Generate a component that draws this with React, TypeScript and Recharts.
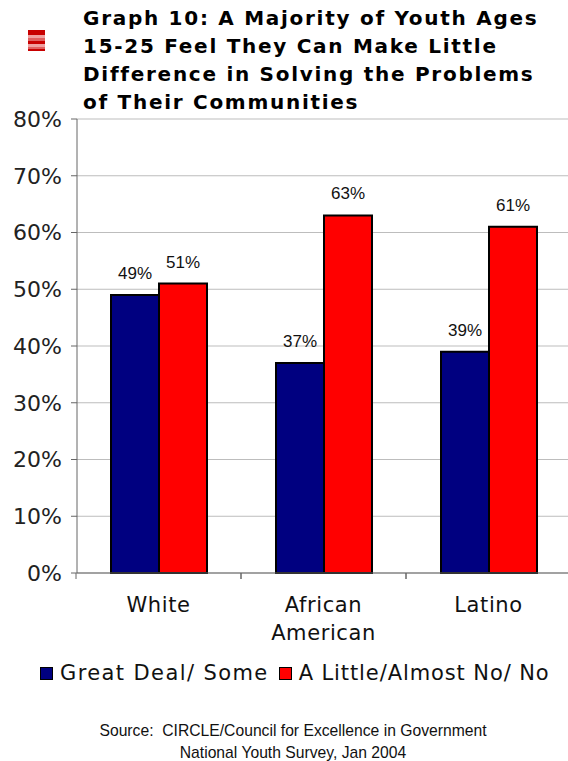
import { BarChart, Bar, XAxis, YAxis, CartesianGrid, LabelList } from "recharts";

const categories = ["White", "African American", "Latino"];
const greatDealSome = [49, 37, 39];
const littleOrNone = [51, 63, 61];
const yTicks = [0, 10, 20, 30, 40, 50, 60, 70, 80];
const titleLines = [
  "Graph 10: A Majority of Youth Ages",
  "15-25 Feel They Can Make Little",
  "Difference in Solving the Problems",
  "of Their Communities",
];
const sourceLines = [
  "Source:  CIRCLE/Council for Excellence in Government",
  "National Youth Survey, Jan 2004",
];
const legendLabels = ["Great Deal/ Some", "A Little/Almost No/ No"];

const data = categories.map((name, i) => ({
  name,
  some: greatDealSome[i],
  little: littleOrNone[i],
}));

const BAND = 165;
const NAVY = "#000080";
const RED = "#ff0000";
const AXIS_GREY = "#666666";
const VERDANA = "'DejaVu Sans', sans-serif";
const ARIAL = "'Liberation Sans', sans-serif";
const legendColors = [NAVY, RED];
const legendSpacing = [1.4, 0.9];

// category labels wrap per word, tick marks sit on the band edges
function CategoryTick({ x, y, payload }: any) {
  const words = String(payload.value).split(" ");
  return (
    <g>
      <line x1={x - BAND / 2} x2={x - BAND / 2} y1={y - 8} y2={y - 2} stroke={AXIS_GREY} />
      <line x1={x + BAND / 2} x2={x + BAND / 2} y1={y - 8} y2={y - 2} stroke={AXIS_GREY} />
      <text textAnchor="middle" fontFamily={VERDANA} fontSize={21} fill="#111" letterSpacing={0.6}>
        {words.map((w, i) => (
          <tspan key={w} x={x} y={y + 31 + i * 28}>
            {w}
          </tspan>
        ))}
      </text>
    </g>
  );
}

function StripedIcon() {
  return (
    <svg width={17} height={21} style={{ position: "absolute", left: 28, top: 30 }}>
      <rect width={17} height={21} fill="#c80000" />
      <rect y={5} width={17} height={3} fill="#f0a0a0" />
      <rect y={8} width={17} height={3} fill="#e06060" />
      <rect y={14} width={17} height={3} fill="#f0a0a0" />
      <rect y={17} width={17} height={2} fill="#e06060" />
    </svg>
  );
}

export default function App() {
  return (
    <div style={{ position: "fixed", left: 0, top: 0, width: 568, height: 761, overflow: "hidden", background: "#fff" }}>
      <StripedIcon />
      <div
        style={{
          position: "absolute",
          left: 83,
          top: 4,
          fontFamily: VERDANA,
          fontWeight: 700,
          fontSize: 20,
          lineHeight: "28px",
          letterSpacing: 1.72,
          color: "#000",
          whiteSpace: "nowrap",
        }}
      >
        {titleLines.map((t) => (
          <div key={t}>{t}</div>
        ))}
      </div>

      <div style={{ position: "absolute", left: 0, top: 0 }}>
        <BarChart
          width={580}
          height={650}
          data={data}
          barGap={0}
          barCategoryGap={35}
          margin={{ top: 119, right: 8, bottom: 0, left: 0 }}
        >
          <CartesianGrid vertical={false} stroke="#bdbdbd" />
          <XAxis
            dataKey="name"
            height={77}
            interval={0}
            padding={{ left: -1, right: 1 }}
            stroke={AXIS_GREY}
            tickLine={false}
            tick={<CategoryTick />}
          />
          <YAxis
            width={77}
            domain={[0, 80]}
            ticks={yTicks}
            interval={0}
            stroke={AXIS_GREY}
            tickSize={6}
            tickMargin={9}
            tickFormatter={(v: number) => `${v}%`}
            tick={{ fontFamily: VERDANA, fontSize: 22, fill: "#222" }}
          />
          <Bar dataKey="some" fill={NAVY} stroke="#000" strokeWidth={2} isAnimationActive={false}>
            <LabelList
              dataKey="some"
              position="top"
              offset={16}
              formatter={(v: number) => `${v}%`}
              style={{ fontFamily: ARIAL, fontSize: 17, fill: "#111" }}
            />
          </Bar>
          <Bar dataKey="little" fill={RED} stroke="#000" strokeWidth={2} isAnimationActive={false}>
            <LabelList
              dataKey="little"
              position="top"
              offset={16}
              formatter={(v: number) => `${v}%`}
              style={{ fontFamily: ARIAL, fontSize: 17, fill: "#111" }}
            />
          </Bar>
        </BarChart>
      </div>

      <div
        style={{
          position: "absolute",
          left: 40,
          top: 661,
          display: "flex",
          alignItems: "center",
          fontFamily: VERDANA,
          fontSize: 21,
          color: "#111",
          whiteSpace: "nowrap",
        }}
      >
        {legendLabels.map((label, i) => (
          <span
            key={label}
            style={{ display: "flex", alignItems: "center", marginRight: 10, letterSpacing: legendSpacing[i] }}
          >
            <span
              style={{
                width: 11,
                height: 11,
                marginRight: 7,
                background: legendColors[i],
                border: "1.5px solid #000",
              }}
            />
            {label}
          </span>
        ))}
      </div>

      <div
        style={{
          position: "absolute",
          left: 0,
          width: 586,
          top: 720,
          textAlign: "center",
          fontFamily: ARIAL,
          fontSize: 15.7,
          lineHeight: "22px",
          color: "#111",
          whiteSpace: "pre",
        }}
      >
        {sourceLines.map((s) => (
          <div key={s}>{s}</div>
        ))}
      </div>
    </div>
  );
}
